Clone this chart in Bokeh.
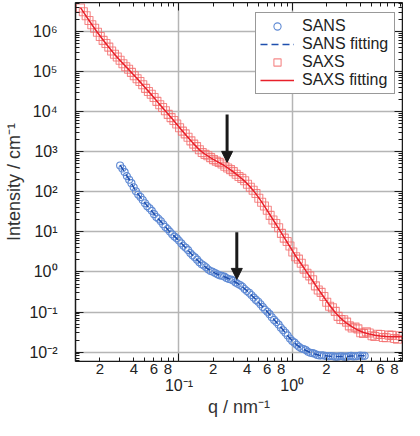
from bokeh.plotting import figure
from bokeh.models import (FixedTicker, LogAxis, Range1d, Legend, LegendItem,
                          Arrow, NormalHead, PrintfTickFormatter)
from bokeh.embed import file_html
from bokeh.resources import INLINE

FONT = "Liberation Sans"

# ---------------- data ----------------
sans_q = [0.03020, 0.03162, 0.03311, 0.03467, 0.03631, 0.03802, 0.03981, 0.04169, 0.04365, 0.04571,
          0.04786, 0.05012, 0.05248, 0.05495, 0.05754, 0.06026, 0.06310, 0.06607, 0.06918, 0.07244,
          0.07586, 0.07943, 0.08318, 0.08710, 0.09120, 0.09550, 0.1000, 0.1047, 0.1096, 0.1148,
          0.1202, 0.1259, 0.1318, 0.1380, 0.1445, 0.1514, 0.1585, 0.1660, 0.1738, 0.1820,
          0.1905, 0.1995, 0.2089, 0.2188, 0.2291, 0.2399, 0.2512, 0.2630, 0.2754, 0.2884,
          0.3020, 0.3162, 0.3311, 0.3467, 0.3631, 0.3802, 0.3981, 0.4169, 0.4365, 0.4571,
          0.4786, 0.5012, 0.5248, 0.5495, 0.5754, 0.6026, 0.6310, 0.6607, 0.6918, 0.7244,
          0.7586, 0.7943, 0.8318, 0.8710, 0.9120, 0.9550, 1.000, 1.047, 1.096, 1.148,
          1.202, 1.259, 1.318, 1.380, 1.445, 1.514, 1.585, 1.660, 1.738, 1.820,
          1.905, 1.995, 2.089, 2.188, 2.291, 2.399, 2.512, 2.630, 2.754, 2.884,
          3.020, 3.162, 3.311, 3.467, 3.631, 3.802, 3.981, 4.169, 4.365]
sans_I = [455, 385, 312, 248, 200, 165, 131, 104, 85.5, 74.5,
          62.5, 51.8, 44.0, 39.0, 33.6, 27.8, 23.6, 21.3, 18.5, 15.5,
          13.3, 11.8, 10.2, 8.70, 7.65, 6.92, 6.10, 5.18, 4.50, 4.03,
          3.52, 2.98, 2.60, 2.32, 2.03, 1.76, 1.56, 1.45, 1.31, 1.15,
          1.06, 1.01, 0.945, 0.872, 0.825, 0.803, 0.768, 0.708, 0.668, 0.645,
          0.610, 0.548, 0.505, 0.474, 0.432, 0.375, 0.334, 0.303, 0.267, 0.229,
          0.201, 0.180, 0.157, 0.133, 0.115, 0.102, 0.0885, 0.0742, 0.0637, 0.0562,
          0.0486, 0.0408, 0.0350, 0.0305, 0.0261, 0.0219, 0.0188, 0.0172, 0.0153, 0.0136,
          0.0124, 0.0119, 0.0112, 0.0102, 0.00960, 0.00940, 0.00905, 0.00850, 0.00820, 0.00835,
          0.00825, 0.00795, 0.00785, 0.00800, 0.00790, 0.00770, 0.00765, 0.00790, 0.00785, 0.00770,
          0.00770, 0.00790, 0.00805, 0.00780, 0.00785, 0.00800, 0.00820, 0.00805, 0.00805]

sans_fit_q = [0.03020, 0.03311, 0.03631, 0.03981, 0.04365, 0.04786, 0.05248, 0.05754, 0.06310, 0.06918,
              0.07586, 0.08318, 0.09120, 0.1000, 0.1096, 0.1202, 0.1318, 0.1445, 0.1585, 0.1738,
              0.1905, 0.2089, 0.2291, 0.2512, 0.2754, 0.3020, 0.3311, 0.3631, 0.3981, 0.4365,
              0.4786, 0.5248, 0.5754, 0.6310, 0.6918, 0.7586, 0.8318, 0.9120, 1.000, 1.096,
              1.202, 1.318, 1.445, 1.585, 1.738, 1.905, 2.089, 2.291, 2.512, 2.754,
              3.020, 3.311, 3.631, 3.981, 4.365]
sans_fit_I = [468, 309, 204, 129, 87.1, 61.7, 44.7, 33.1, 24.0, 18.2,
              13.5, 10.0, 7.76, 6.03, 4.57, 3.47, 2.63, 2.00, 1.58, 1.29,
              1.07, 0.933, 0.832, 0.759, 0.676, 0.603, 0.513, 0.427, 0.339, 0.263,
              0.204, 0.155, 0.117, 0.0871, 0.0646, 0.0479, 0.0355, 0.0257, 0.0191, 0.0151,
              0.0126, 0.0110, 0.00977, 0.00891, 0.00832, 0.00813, 0.00794, 0.00776, 0.00776, 0.00776,
              0.00776, 0.00794, 0.00794, 0.00813, 0.00813]

saxs_q = [0.01349, 0.01429, 0.01514, 0.01603, 0.01698, 0.01799, 0.01905, 0.02018, 0.02138, 0.02265,
          0.02399, 0.02541, 0.02692, 0.02851, 0.03020, 0.03199, 0.03388, 0.03589, 0.03802, 0.04027,
          0.04266, 0.04519, 0.04786, 0.05070, 0.05370, 0.05689, 0.06026, 0.06383, 0.06761, 0.07161,
          0.07586, 0.08035, 0.08511, 0.09016, 0.09550, 0.1012, 0.1072, 0.1135, 0.1202, 0.1274,
          0.1349, 0.1429, 0.1514, 0.1603, 0.1698, 0.1799, 0.1905, 0.2018, 0.2138, 0.2265,
          0.2399, 0.2541, 0.2692, 0.2851, 0.3020, 0.3199, 0.3388, 0.3589, 0.3802, 0.4027,
          0.4266, 0.4519, 0.4786, 0.5070, 0.5370, 0.5689, 0.6026, 0.6383, 0.6761, 0.7161,
          0.7586, 0.8035, 0.8511, 0.9016, 0.9550, 1.012, 1.072, 1.135, 1.202, 1.274,
          1.349, 1.429, 1.514, 1.603, 1.698, 1.799, 1.905, 2.018, 2.138, 2.265,
          2.399, 2.541, 2.692, 2.851, 3.020, 3.199, 3.388, 3.589, 3.802, 4.027,
          4.266, 4.519, 4.786, 5.070, 5.370, 5.689, 6.026, 6.383, 6.761, 7.161,
          7.586, 8.035, 8.511, 9.016, 9.550]
saxs_I = [3.90e6, 3.15e6, 2.50e6, 1.90e6, 1.49e6, 1.22e6, 9.70e5, 7.55e5, 6.05e5, 5.08e5,
          4.12e5, 3.30e5, 2.72e5, 2.33e5, 1.93e5, 1.58e5, 1.33e5, 1.15e5, 9.62e4, 7.92e4,
          6.70e4, 5.70e4, 4.72e4, 3.84e4, 3.20e4, 2.73e4, 2.27e4, 1.82e4, 1.50e4, 1.28e4,
          1.06e4, 8.60e3, 7.15e3, 6.05e3, 4.95e3, 3.98e3, 3.28e3, 2.80e3, 2.32e3, 1.88e3,
          1.56e3, 1.35e3, 1.13e3, 965, 865, 795, 715, 640, 585, 545,
          495, 436, 394, 360, 320, 275, 242, 217, 189, 155,
          130, 110, 91.0, 69.5, 55.0, 44.5, 34.8, 25.9, 19.8, 16.2,
          12.7, 9.20, 7.00, 5.75, 4.45, 3.15, 2.40, 2.10, 1.65, 1.18,
          0.93, 0.80, 0.64, 0.45, 0.355, 0.31, 0.245, 0.175, 0.140, 0.128,
          0.104, 0.078, 0.065, 0.064, 0.056, 0.045, 0.040, 0.042, 0.038, 0.0305,
          0.029, 0.0320, 0.0300, 0.0255, 0.0245, 0.0280, 0.0275, 0.0232, 0.0228, 0.0265,
          0.0262, 0.0218, 0.0210, 0.0255, 0.0248]

saxs_fit_q = [0.01349, 0.01514, 0.01698, 0.01905, 0.02138, 0.02399, 0.02692, 0.03020, 0.03388, 0.03802,
              0.04266, 0.04786, 0.05370, 0.06026, 0.06761, 0.07586, 0.08511, 0.09550, 0.1072, 0.1202,
              0.1349, 0.1514, 0.1698, 0.1905, 0.2138, 0.2399, 0.2692, 0.3020, 0.3388, 0.3802,
              0.4266, 0.4786, 0.5370, 0.6026, 0.6761, 0.7586, 0.8511, 0.9550, 1.072, 1.202,
              1.349, 1.514, 1.698, 1.905, 2.138, 2.399, 2.692, 3.020, 3.388, 3.802,
              4.266, 4.786, 5.370, 6.026, 6.761, 7.586, 8.511, 9.550]
saxs_fit_I = [3.98e6, 2.45e6, 1.51e6, 9.55e5, 6.17e5, 4.07e5, 2.75e5, 1.91e5, 1.35e5, 9.55e4,
              6.76e4, 4.68e4, 3.24e4, 2.24e4, 1.51e4, 1.05e4, 7.24e3, 4.90e3, 3.31e3, 2.29e3,
              1.58e3, 1.12e3, 871, 708, 589, 490, 398, 316, 245, 186,
              132, 89.1, 56.2, 33.9, 20.4, 12.3, 7.24, 4.27, 2.51, 1.58,
              0.977, 0.603, 0.372, 0.234, 0.148, 0.0977, 0.0692, 0.0525, 0.0427, 0.0355,
              0.0309, 0.0282, 0.0263, 0.0251, 0.0245, 0.0240, 0.0240, 0.0240]

# ---------------- ticks / labels ----------------
x_decades = [0.01, 0.1, 1.0, 10.0]
x_num_ticks = [0.02, 0.04, 0.06, 0.08, 0.2, 0.4, 0.6, 0.8, 2.0, 4.0, 6.0, 8.0]
x_num_labels = ["2", "4", "6", "8", "2", "4", "6", "8", "2", "4", "6", "8"]
x_dec_ticks = [0.1, 1.0]
x_dec_labels = ["10⁻¹", "10⁰"]
y_decades = [1e-2, 1e-1, 1.0, 1e1, 1e2, 1e3, 1e4, 1e5, 1e6]
y_labels = ["10⁻²", "10⁻¹", "10⁰", "10¹", "10²", "10³", "10⁴", "10⁵", "10⁶"]
mults = [2, 3, 4, 5, 6, 7, 8, 9]
x_minor = [m * d for d in [0.01, 0.1, 1.0] for m in mults]
y_minor = [m * d for d in [1e-3, 1e-2, 1e-1, 1.0, 1e1, 1e2, 1e3, 1e4, 1e5, 1e6] for m in mults]

X0, X1 = 0.01219, 9.42
Y0, Y1 = 0.00582, 5.35e6

AX = "#1a1a1a"
TXT = "#222222"

p = figure(width=404, height=420, x_axis_type="log", y_axis_type="log",
           x_range=Range1d(X0, X1), y_range=Range1d(Y0, Y1),
           output_backend="svg", toolbar_location=None,
           min_border_left=75, min_border_right=2, min_border_top=2, min_border_bottom=59)
p.outline_line_color = AX
p.outline_line_width = 1
p.background_fill_color = "white"
p.border_fill_color = "white"

def tick_style(ax, major_in=8, minor_in=4):
    ax.major_tick_in = major_in
    ax.major_tick_out = 0
    ax.minor_tick_in = minor_in
    ax.minor_tick_out = 0
    ax.major_tick_line_color = AX
    ax.minor_tick_line_color = AX
    ax.axis_line_color = AX
    ax.axis_line_width = 1.5
    ax.formatter = PrintfTickFormatter(format="%g")

# bottom axis: tick marks only, pinned to the frame edge
xa = p.xaxis[0]
xa.ticker = FixedTicker(ticks=x_decades, minor_ticks=x_minor)
tick_style(xa)
xa.major_label_overrides = {t: "" for t in x_decades}
xa.major_label_text_font_size = "0px"
xa.major_label_standoff = 0
xa.fixed_location = Y0

# bottom: numeric labels 2 4 6 8
xb = LogAxis(ticker=FixedTicker(ticks=x_num_ticks, minor_ticks=[]),
             major_label_overrides=dict(zip(x_num_ticks, x_num_labels)),
             formatter=PrintfTickFormatter(format="%g"),
             axis_line_color=None, major_tick_line_color=None, minor_tick_line_color=None,
             major_tick_out=0, major_tick_in=0, major_label_standoff=2,
             major_label_text_font=FONT, major_label_text_font_size="15px",
             major_label_text_color=TXT)
p.add_layout(xb, "below")

# bottom: decade labels + axis title
xc = LogAxis(ticker=FixedTicker(ticks=x_dec_ticks, minor_ticks=[]),
             major_label_overrides=dict(zip(x_dec_ticks, x_dec_labels)),
             formatter=PrintfTickFormatter(format="%g"),
             axis_line_color=None, major_tick_line_color=None, minor_tick_line_color=None,
             major_tick_out=0, major_tick_in=0, major_label_standoff=0,
             major_label_text_font=FONT, major_label_text_font_size="16px",
             major_label_text_color=TXT,
             axis_label="q / nm⁻¹", axis_label_standoff=0,
             axis_label_text_font=FONT, axis_label_text_font_size="18px",
             axis_label_text_font_style="normal", axis_label_text_color="#333333")
p.add_layout(xc, "below")

# top axis (ticks only)
xt = LogAxis(ticker=FixedTicker(ticks=x_decades, minor_ticks=x_minor),
             major_label_overrides={t: "" for t in x_decades},
             major_label_text_font_size="0px", major_label_standoff=0,
             fixed_location=Y1)
tick_style(xt)
p.add_layout(xt, "above")

# left axis
ya = p.yaxis[0]
ya.ticker = FixedTicker(ticks=y_decades, minor_ticks=y_minor)
tick_style(ya)
ya.major_label_overrides = dict(zip(y_decades, y_labels))
ya.major_label_text_font = FONT
ya.major_label_text_font_size = "16px"
ya.major_label_text_color = TXT
ya.major_label_standoff = 18
ya.axis_label = "Intensity / cm⁻¹"
ya.axis_label_text_font = FONT
ya.axis_label_text_font_size = "18px"
ya.axis_label_text_font_style = "normal"
ya.axis_label_text_color = "#333333"
ya.axis_label_standoff = 2

# right axis (ticks only)
yr = LogAxis(ticker=FixedTicker(ticks=y_decades, minor_ticks=y_minor),
             major_label_overrides={t: "" for t in y_decades},
             major_label_text_font_size="0px", major_label_standoff=0,
             fixed_location=X1)
tick_style(yr)
p.add_layout(yr, "right")

# grids
p.xgrid[0].ticker = FixedTicker(ticks=x_decades)
p.ygrid[0].ticker = FixedTicker(ticks=y_decades)
for g in (p.xgrid[0], p.ygrid[0]):
    g.grid_line_color = "#b5b5b5"
    g.grid_line_width = 1.5

# data
sans_r = p.scatter(sans_q, sans_I, marker="circle", size=7, line_color="#5f8ad4",
                   fill_color=None, line_width=1.1)
sans_fit_r = p.line(sans_fit_q, sans_fit_I, line_color="#1f4fae", line_dash="7 4", line_width=1.5)
saxs_r = p.scatter(saxs_q, saxs_I, marker="square", size=8, line_color="#f26a6a",
                   fill_color=None, line_width=1.1, line_alpha=0.8)
saxs_fit_r = p.line(saxs_fit_q, saxs_fit_I, line_color="#e8202a", line_width=1.5)

# arrows
p.add_layout(Arrow(end=NormalHead(size=11, fill_color=AX, line_color=AX),
                   x_start=0.266, y_start=8500, x_end=0.266, y_end=545,
                   line_width=3, line_color=AX))
p.add_layout(Arrow(end=NormalHead(size=11, fill_color=AX, line_color=AX),
                   x_start=0.324, y_start=9.85, x_end=0.324, y_end=0.653,
                   line_width=3, line_color=AX))

legend = Legend(items=[LegendItem(label="SANS", renderers=[sans_r]),
                       LegendItem(label="SANS fitting", renderers=[sans_fit_r]),
                       LegendItem(label="SAXS", renderers=[saxs_r]),
                       LegendItem(label="SAXS fitting", renderers=[saxs_fit_r])],
                location=(180, 267), label_text_font=FONT, label_text_font_size="16px",
                label_text_color=TXT, glyph_width=34, glyph_height=18, label_height=18,
                label_width=88, spacing=0, padding=4, label_standoff=8, margin=0,
                border_line_color="#333333", border_line_width=1,
                background_fill_color="white", background_fill_alpha=1)
p.add_layout(legend)

open("out.html", "w").write(file_html(p, INLINE))
